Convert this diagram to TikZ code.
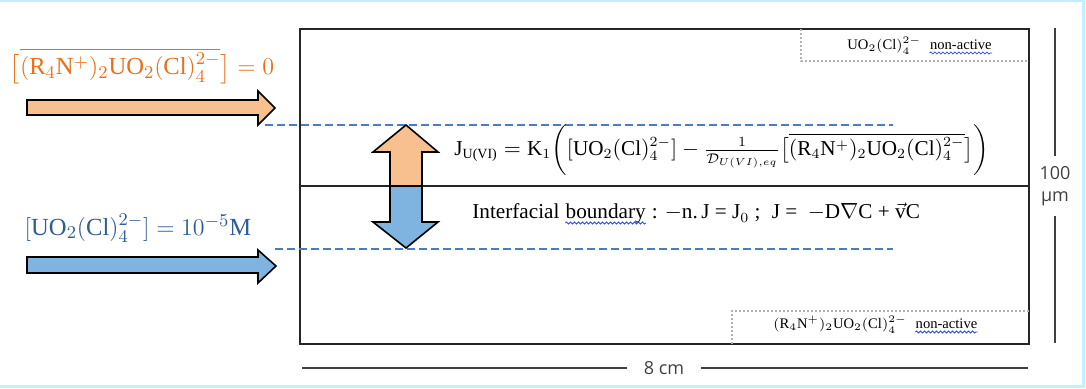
\documentclass[tikz,border=0pt]{standalone}
\usepackage{amsmath,amssymb}
\usepackage{fontspec}
\setmainfont{Liberation Serif}
\newfontfamily\dimfont{Open Sans}
\usetikzlibrary{positioning,decorations.pathmorphing}
\definecolor{framecol}{HTML}{C4EEFB}
\definecolor{orgfill}{HTML}{F8C08E}
\definecolor{bluefill}{HTML}{7FB4E1}
\definecolor{orgtext}{HTML}{E8701A}
\definecolor{bluetext}{HTML}{2F5B96}
\definecolor{filmcol}{HTML}{4A7CC4}
\definecolor{spellblue}{HTML}{2E4BE0}
\newcommand\uranyl{\mathrm{UO}_2(\mathrm{Cl})_4^{2-}}
\newcommand\quatam{(\mathrm{R}_4\mathrm{N}^+)_2}
\tikzset{
  wall/.style      = {line width=1pt, black!85},
  interface/.style = {line width=0.7pt, black!85},
  film/.style      = {line width=1pt, filmcol, dash pattern=on 4pt off 2pt},
  dotbox/.style    = {line width=1pt, black!30, dash pattern=on 1.2pt off 0.8pt},
  blockarr/.style  = {line width=0.8pt, black, line join=miter},
  dimline/.style   = {line width=0.8pt, black!75},
  dimtext/.style   = {font=\dimfont\fontsize{9}{11}\selectfont, text=black!75, inner xsep=8pt, inner ysep=5pt},
  conc/.style      = {font=\fontsize{12.3}{14}\selectfont, inner sep=0pt},
  eqn/.style       = {font=\fontsize{10.6}{13}\selectfont, inner sep=0pt},
  tag/.style       = {font=\fontsize{7.3}{9}\selectfont, inner sep=0pt},
  spell/.style     = {spellblue, line width=0.4pt, decorate,
                      decoration={snake, amplitude=0.5pt, segment length=2pt}},
}

\begin{document}
\begin{tikzpicture}[x=0.5pt,y=-0.5pt]
  \useasboundingbox (0,0) rectangle (1086,389);
  \draw[framecol, line width=1.5pt] (0,1) -- (1083,1) -- (1083,387) -- (0,387);

  \draw[wall] (300,29) rectangle (1029,344);
  \draw[interface] (300,186) -- (1029,186);
  \draw[dotbox] (801,29) |- (1029,61);
  \draw[dotbox] (732,344) |- (1029,311);
  \draw[film] (265,125) -- (893,125);
  \draw[film] (275,249) -- (893,249);

  \draw[blockarr, fill=orgfill] (27,100) -- (258,100) -- (258,91) -- (275,108) -- (258,125) -- (258,115) -- (27,115) -- cycle;
  \draw[blockarr, fill=bluefill] (27,257) -- (258,257) -- (258,250) -- (276,266) -- (258,283) -- (258,273) -- (27,273) -- cycle;
  \draw[blockarr, fill=orgfill] (390,186) -- (390,152) -- (373,152) -- (406,125) -- (438,152) -- (422,152) -- (422,186) -- cycle;
  \draw[blockarr, fill=bluefill] (390,186) -- (390,222) -- (373,222) -- (406,248) -- (438,222) -- (422,222) -- (422,186) -- cycle;

  \node[conc, text=orgtext] (orgconc) at (142,66) {$\bigl[\overline{\quatam\uranyl}\bigr] = 0$};
  \node[conc, text=bluetext] (blueconc) at (138,228) {$[\uranyl] = 10^{-5}\mathrm{M}$};

  \node[eqn, anchor=west] (flux) at (454,150) {$\text{J}_{\text{\scriptsize U(VI)}} = \mathrm{K}_1 \biggl( [\uranyl] - \frac{1}{\mathcal{D}_{U(VI),eq}}\bigl[\overline{\quatam\uranyl}\bigr] \biggr)$};
  \node[eqn, anchor=base west] (bound1) at (472,219) {Interfacial};
  \node[eqn, anchor=base west] (bound2) at ([xshift=2.7pt]bound1.base east) {boundary};
  \node[eqn, anchor=base west] (bound3) at ([xshift=2.7pt]bound2.base east) {: $-$n.\,J = J$_0$ ;\; J =\ \ $-$D$\nabla$C + $\vec{\mathrm{v}}$C};
  \draw[spell] ([yshift=-2pt]bound2.base west) -- ([yshift=-2pt]bound2.base east);

  \node[tag, anchor=base west] (topform) at (847,50) {$\uranyl$};
  \node[tag, anchor=base west] (topword) at ([xshift=4pt]topform.base east) {non-active};
  \draw[spell] ([yshift=-1.5pt]topword.base west) -- ([yshift=-1.5pt]topword.base east);
  \node[tag, anchor=base west] (botform) at (773,329) {$\quatam\uranyl$};
  \node[tag, anchor=base west] (botword) at ([xshift=4pt]botform.base east) {non-active};
  \draw[spell] ([yshift=-1.5pt]botword.base west) -- ([yshift=-1.5pt]botword.base east);

  \node[dimtext] (len) at (664,368) {8 cm};
  \draw[dimline] (302,368) -- (len.west);
  \draw[dimline] (len.east) -- (1028,368);
  \node[dimtext, align=center] (thick) at (1055,186) {100\\µm};
  \draw[dimline] (1055,28) -- (thick.north);
  \draw[dimline] (thick.south) -- (1055,343);
\end{tikzpicture}
\end{document}
